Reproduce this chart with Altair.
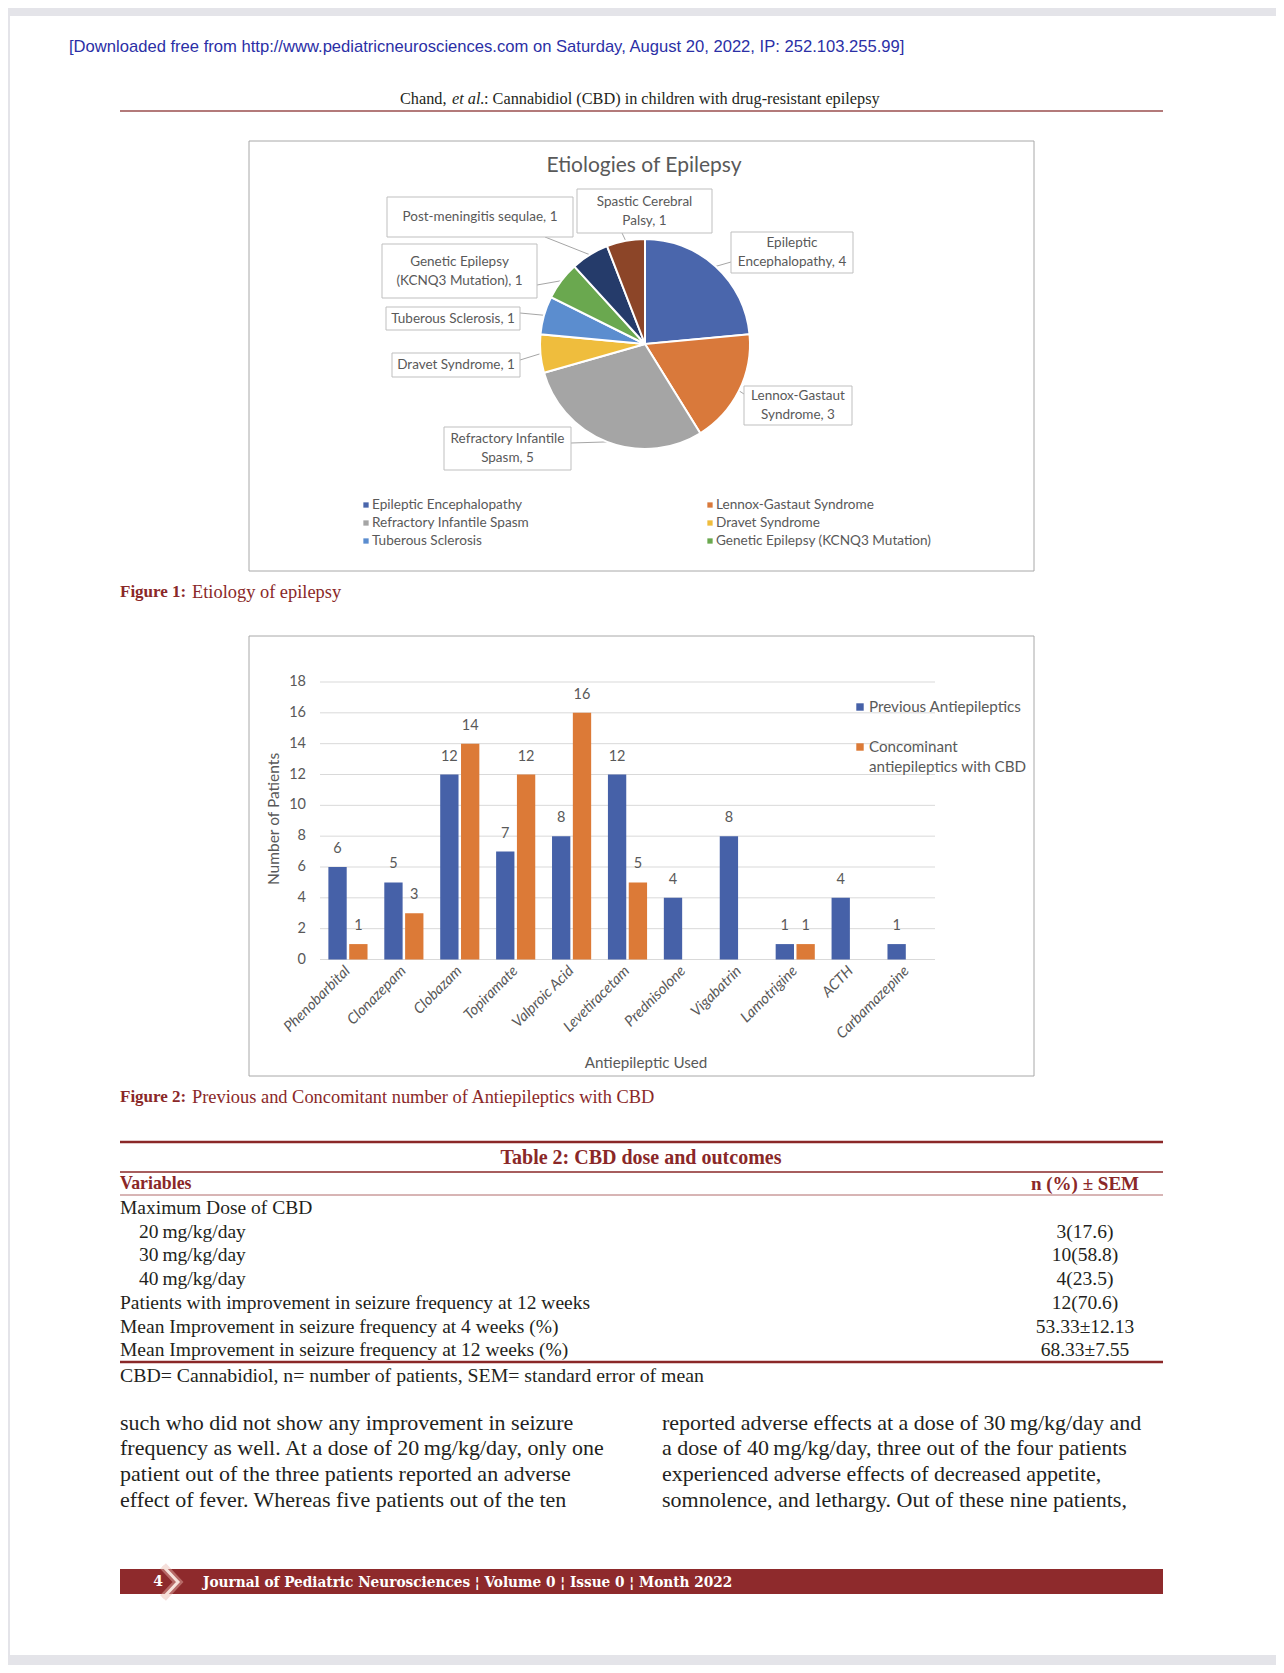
import altair as alt
import numpy as np
import pandas as pd

# ---------------- data ----------------
ETIOLOGIES = ["Epileptic Encephalopathy", "Lennox-Gastaut Syndrome", "Refractory Infantile Spasm",
              "Dravet Syndrome", "Tuberous Sclerosis", "Genetic Epilepsy (KCNQ3 Mutation)",
              "Post-meningitis sequlae", "Spastic Cerebral Palsy"]
ETIOLOGY_COUNTS = [4, 3, 5, 1, 1, 1, 1, 1]
ETIOLOGY_COLORS = ["#4a66ac", "#d9793b", "#a5a5a5", "#efbd3d", "#5b8dcf", "#6aa84f", "#253b6a", "#8c4528"]
LEGEND_SHOWN = 6

DRUGS = ["Phenobarbital", "Clonazepam", "Clobazam", "Topiramate", "Valproic Acid", "Levetiracetam",
         "Prednisolone", "Vigabatrin", "Lamotrigine", "ACTH", "Carbamazepine"]
PREVIOUS = [6, 5, 12, 7, 8, 12, 4, 8, 1, 4, 1]
CONCOMITANT = [1, 3, 14, 12, 16, 5, None, None, 1, None, None]
SERIES = ["Previous Antiepileptics", "Concominant antiepileptics with CBD"]
SERIES_COLORS = ["#4661a8", "#dc7a37"]
Y_TICKS = [0, 2, 4, 6, 8, 10, 12, 14, 16, 18]

TABLE_VARIABLES = ["Maximum Dose of CBD", "20\u2009mg/kg/day", "30\u2009mg/kg/day", "40\u2009mg/kg/day",
                   "Patients with improvement in seizure frequency at 12 weeks",
                   "Mean Improvement in seizure frequency at 4 weeks (%)",
                   "Mean Improvement in seizure frequency at 12 weeks (%)"]
TABLE_VALUES = ["", "3(17.6)", "10(58.8)", "4(23.5)", "12(70.6)", "53.33\u00b112.13", "68.33\u00b17.55"]

BODY_LEFT = ["such who did not show any improvement in seizure",
             "frequency as well. At a dose of 20\u2009mg/kg/day, only one",
             "patient out of the three patients reported an adverse",
             "effect of fever. Whereas five patients out of the ten"]
BODY_RIGHT = ["reported adverse effects at a dose of 30\u2009mg/kg/day and",
              "a dose of 40\u2009mg/kg/day, three out of the four patients",
              "experienced adverse effects of decreased appetite,",
              "somnolence, and lethargy. Out of these nine patients,"]

# ---------------- layout (page pixel coordinates) ----------------
OFF = 8
W, H = 1268, 1657
SERIF = "Liberation Serif"
SANS = "Liberation Sans"
CHART_FONT = "Lato"
GREY_TXT = "#595959"
RED = "#8a2828"
INK = "#231f20"

# pie label boxes: (x0, y0, x1, y1, words on first line (0 = single line), leader start x, y)
LABEL_LAYOUT = {
    "Epileptic Encephalopathy": (731, 232, 853, 273, 1, 731, 262),
    "Lennox-Gastaut Syndrome": (744, 386, 852, 425, 1, 744, 394),
    "Refractory Infantile Spasm": (444, 427, 571, 470, 2, 571, 443),
    "Dravet Syndrome": (392, 353, 520, 377, 0, 520, 360),
    "Tuberous Sclerosis": (386, 307, 520, 330, 0, 520, 313),
    "Genetic Epilepsy (KCNQ3 Mutation)": (382, 244, 537, 298, 2, 537, 285),
    "Post-meningitis sequlae": (387, 197, 573, 237, 0, 545, 237),
    "Spastic Cerebral Palsy": (577, 189, 712, 233, 2, 622, 233),
}
CX, CY, R = 645, 344, 105


def px(v):
    return v - OFF


def XN(f="x"):
    return alt.X(f"{f}:Q", scale=None, axis=None)


def YN(f="y"):
    return alt.Y(f"{f}:Q", scale=None, axis=None)


def texts(rows, **kw):
    df = pd.DataFrame(rows, columns=["x", "y", "t"])
    df["x"] = df["x"] - OFF
    df["y"] = df["y"] - OFF
    kw.setdefault("baseline", "middle")
    kw.setdefault("align", "left")
    return alt.Chart(df).mark_text(**kw).encode(x=XN(), y=YN(), text="t:N")


def rects(rows, **kw):
    df = pd.DataFrame(rows, columns=["x", "y", "x2", "y2"]) - OFF
    return alt.Chart(df).mark_rect(**kw).encode(x=XN(), x2="x2:Q", y=YN(), y2="y2:Q")


def rules(rows, **kw):
    df = pd.DataFrame(rows, columns=["x", "y", "x2", "y2"]) - OFF
    return alt.Chart(df).mark_rule(**kw).encode(x=XN(), x2="x2:Q", y=YN(), y2="y2:Q")


layers = []

# page background
layers.append(rects([(10, 16, 1276, 1655)], color="white"))

# header
layers.append(texts([(69, 47, "[Downloaded free from http://www.pediatricneurosciences.com on Saturday, August 20, 2022, IP: 252.103.255.99]")],
                    font=SANS, fontSize=16.6, color="#2b2fa6"))
layers.append(texts([(400, 99, "Chand,")], font=SERIF, fontSize=16.3, color=INK))
layers.append(texts([(452, 99, "et al.")], font=SERIF, fontSize=16.3, color=INK, fontStyle="italic"))
layers.append(texts([(484, 99, ": Cannabidiol (CBD) in children with drug-resistant epilepsy")], font=SERIF, fontSize=16.3, color=INK))
layers.append(rules([(120, 111, 1163, 111)], color="#9a4e4e", strokeWidth=1.6))

# figure frames
layers.append(rects([(249, 141, 1034, 571), (249, 636, 1034, 1076)], fill="white", stroke="#a8a8a8", strokeWidth=1))

# ---------------- pie chart ----------------
pie_df = pd.DataFrame({"etiology": ETIOLOGIES, "count": ETIOLOGY_COUNTS})
pie_df["idx"] = np.arange(len(pie_df))
total = pie_df["count"].sum()
mid = (pie_df["count"].cumsum() - pie_df["count"] / 2) / total * 2 * np.pi
pie_df["ax"] = CX + R * np.sin(mid) - OFF
pie_df["ay"] = CY - R * np.cos(mid) - OFF
pie_df["sx"] = [LABEL_LAYOUT[e][5] - OFF for e in ETIOLOGIES]
pie_df["sy"] = [LABEL_LAYOUT[e][6] - OFF for e in ETIOLOGIES]
pie_df["bx0"] = [LABEL_LAYOUT[e][0] - OFF for e in ETIOLOGIES]
pie_df["by0"] = [LABEL_LAYOUT[e][1] - OFF for e in ETIOLOGIES]
pie_df["bx1"] = [LABEL_LAYOUT[e][2] - OFF for e in ETIOLOGIES]
pie_df["by1"] = [LABEL_LAYOUT[e][3] - OFF for e in ETIOLOGIES]
pie_df["col"] = pie_df["idx"] % 2
pie_df["row"] = pie_df["idx"] // 2
pie_df["lx"] = 366 - OFF + pie_df["col"] * 344
pie_df["ly"] = 505 - OFF + pie_df["row"] * 18

label_rows = []
for e, c in zip(ETIOLOGIES, ETIOLOGY_COUNTS):
    x0, y0, x1, y1, brk, _, _ = LABEL_LAYOUT[e]
    words = f"{e}, {c}".split(" ")
    lines = [" ".join(words)] if brk == 0 else [" ".join(words[:brk]), " ".join(words[brk:])]
    ymid = (y0 + y1) / 2
    offs = [0] if len(lines) == 1 else [-9.5, 9.5]
    for ln, o in zip(lines, offs):
        label_rows.append(((x0 + x1) / 2, ymid + o, ln))

pie_color = alt.Scale(domain=ETIOLOGIES, range=ETIOLOGY_COLORS)
pie_base = alt.Chart(pie_df)
arc = pie_base.mark_arc(outerRadius=R, stroke="white", strokeWidth=2).encode(
    theta=alt.Theta("count:Q", stack=True),
    color=alt.Color("etiology:N", scale=pie_color, legend=None),
    order=alt.Order("idx:Q"),
    x=alt.value(px(CX)), y=alt.value(px(CY)),
)
leaders = pie_base.mark_rule(color="#a6a6a6", strokeWidth=1).encode(x=XN("sx"), y=YN("sy"), x2="ax:Q", y2="ay:Q")
boxes = pie_base.mark_rect(fill="white", stroke="#bfbfbf", strokeWidth=1).encode(x=XN("bx0"), x2="bx1:Q", y=YN("by0"), y2="by1:Q")
leg_sq = pie_base.transform_filter(f"datum.idx < {LEGEND_SHOWN}").mark_square(size=28, opacity=1).encode(
    x=XN("lx"), y=YN("ly"), color=alt.Color("etiology:N", scale=pie_color, legend=None))
leg_tx = pie_base.transform_filter(f"datum.idx < {LEGEND_SHOWN}").mark_text(
    align="left", baseline="middle", dx=6, font=CHART_FONT, fontSize=13.6, color=GREY_TXT).encode(
    x=XN("lx"), y=YN("ly"), text="etiology:N")
pie_layer = alt.layer(leaders, arc, boxes, leg_sq, leg_tx)
layers.append(pie_layer)
layers.append(texts(label_rows, font=CHART_FONT, fontSize=13.5, color=GREY_TXT, align="center"))
layers.append(texts([(644, 166, "Etiologies of Epilepsy")], font=CHART_FONT, fontSize=21, color=GREY_TXT, align="center"))

# ---------------- bar chart ----------------
bar_rows = []
for d, p, c in zip(DRUGS, PREVIOUS, CONCOMITANT):
    bar_rows.append({"drug": d, "series": SERIES[0], "value": p})
    if c is not None:
        bar_rows.append({"drug": d, "series": SERIES[1], "value": c})
bar_df = pd.DataFrame(bar_rows)

XS = alt.Scale(domain=DRUGS, range=[px(320), px(935)], paddingInner=0.3, paddingOuter=0.15)
YS = alt.Scale(domain=[0, 18], range=[px(959.5), px(682)])
XO = alt.Scale(domain=SERIES, paddingInner=0.12)
CS = alt.Scale(domain=SERIES, range=SERIES_COLORS)

tick_df = pd.DataFrame({"tick": Y_TICKS})
grid = alt.Chart(tick_df).mark_rule(color="#d9d9d9", strokeWidth=1).encode(
    y=alt.Y("tick:Q", scale=YS, axis=None), x=alt.value(px(320)), x2=alt.value(px(935)))
ylab = alt.Chart(tick_df).mark_text(align="right", baseline="middle", font=CHART_FONT, fontSize=14.5, color=GREY_TXT).encode(
    y=alt.Y("tick:Q", scale=YS, axis=None), x=alt.value(px(306)), text="tick:Q")
bars = alt.Chart(bar_df).mark_bar().encode(
    x=alt.X("drug:N", scale=XS, axis=None, sort=DRUGS),
    xOffset=alt.XOffset("series:N", scale=XO, sort=SERIES),
    y=alt.Y("value:Q", scale=YS, axis=None),
    color=alt.Color("series:N", scale=CS, legend=None),
)
vlab = alt.Chart(bar_df).mark_text(dy=-18, baseline="middle", font=CHART_FONT, fontSize=14.5, color=GREY_TXT).encode(
    x=alt.X("drug:N", scale=XS, axis=None, sort=DRUGS),
    xOffset=alt.XOffset("series:N", scale=XO, sort=SERIES),
    y=alt.Y("value:Q", scale=YS, axis=None),
    text="value:Q",
)
drug_df = pd.DataFrame({"drug": DRUGS})
xlab = alt.Chart(drug_df).mark_text(angle=315, align="right", baseline="middle", font=CHART_FONT, fontSize=14.8,
                                    fontStyle="italic", color=GREY_TXT).encode(
    x=alt.X("drug:N", scale=XS, axis=None, sort=DRUGS), y=alt.value(px(969)), text="drug:N")
ser_df = pd.DataFrame({"series": SERIES, "i": [0, 1]})
ser_df["lx"] = 860 - OFF
ser_df["ly"] = 707 - OFF + ser_df["i"] * 40
leg2_sq = alt.Chart(ser_df).mark_square(size=55, opacity=1).encode(
    x=XN("lx"), y=YN("ly"), color=alt.Color("series:N", scale=CS, legend=None))
bar_layer = alt.layer(grid, bars, vlab, xlab, ylab, leg2_sq)
layers.append(bar_layer)
leg2_rows = [(869, 707, "Previous Antiepileptics"), (869, 747, "Concominant"), (869, 767, "antiepileptics with CBD")]
layers.append(texts(leg2_rows, font=CHART_FONT, fontSize=15.2, color=GREY_TXT))
layers.append(texts([(274, 819, "Number of Patients")], font=CHART_FONT, fontSize=15.5, color=GREY_TXT, align="center", angle=270))
layers.append(texts([(646, 1063, "Antiepileptic Used")], font=CHART_FONT, fontSize=15.2, color=GREY_TXT, align="center"))

# captions
layers.append(texts([(120, 592, "Figure 1:"), (120, 1097, "Figure 2:")], font=SERIF, fontSize=17, color=RED, fontWeight="bold"))
layers.append(texts([(192, 592, "Etiology of epilepsy"), (192, 1097, "Previous and Concomitant number of Antiepileptics with CBD")],
                    font=SERIF, fontSize=18.4, color=RED))

# ---------------- table ----------------
layers.append(rules([(120, 1142, 1163, 1142), (120, 1362, 1163, 1362)], color=RED, strokeWidth=2.4))
layers.append(rules([(120, 1172, 1163, 1172)], color=RED, strokeWidth=1.6))
layers.append(rules([(120, 1195, 1163, 1195)], color="#b06a6a", strokeWidth=1))
layers.append(texts([(641, 1158, "Table 2: CBD dose and outcomes")], font=SERIF, fontSize=20, color=RED, fontWeight="bold", align="center"))
layers.append(texts([(120, 1184, "Variables")], font=SERIF, fontSize=17.8, color=RED, fontWeight="bold"))
layers.append(texts([(1139, 1184, "n (%) \u00b1 SEM")], font=SERIF, fontSize=19, color=RED, fontWeight="bold", align="right"))
TABLE_INDENT = [0, 1, 1, 1, 0, 0, 0]
row_y = [1208, 1232, 1255, 1279, 1303, 1327, 1350]
layers.append(texts([(120 + 19 * ind, y, t) for ind, y, t in zip(TABLE_INDENT, row_y, TABLE_VARIABLES)],
                    font=SERIF, fontSize=19.5, color=INK))
layers.append(texts([(1085, y, t) for y, t in zip(row_y, TABLE_VALUES) if t],
                    font=SERIF, fontSize=19.5, color=INK, align="center"))
layers.append(texts([(120, 1376, "CBD= Cannabidiol, n= number of patients, SEM= standard error of mean")],
                    font=SERIF, fontSize=19.8, color=INK))

# ---------------- body text ----------------
body_y = [1423, 1448, 1474, 1500]
layers.append(texts([(120, y, t) for y, t in zip(body_y, BODY_LEFT)] + [(662, y, t) for y, t in zip(body_y, BODY_RIGHT)],
                    font=SERIF, fontSize=22, color=INK))

# ---------------- footer ----------------
layers.append(rects([(120, 1569, 1163, 1594)], color="#8e2a2c"))
chev = pd.DataFrame({"x": [163, 178, 163], "y": [1566, 1582, 1598], "i": [0, 1, 2]})
chev["x"] -= OFF
chev["y"] -= OFF
layers.append(alt.Chart(chev).mark_line(color="#e9b8b0", strokeWidth=8, opacity=0.45).encode(x=XN(), y=YN(), order="i:Q"))
layers.append(alt.Chart(chev).mark_line(color="#f6e1da", strokeWidth=3).encode(x=XN(), y=YN(), order="i:Q"))
layers.append(texts([(158, 1582, "4")], font="DejaVu Serif", fontSize=14, color="white", fontWeight="bold", align="center"))
layers.append(texts([(203, 1582, "Journal of Pediatric Neurosciences \u00a6 Volume 0 \u00a6 Issue 0 \u00a6 Month 2022")],
                    font="DejaVu Serif Condensed, DejaVu Serif", fontSize=15.2, color="white", fontWeight="bold"))

chart = alt.layer(*layers).resolve_scale(
    x="independent", y="independent", color="independent"
).properties(
    width=W, height=H, autosize=alt.AutoSizeParams(type="none"), padding=0
).configure(background="#e4e4e9").configure_view(stroke=None)

chart.save("out.html", embed_options={"renderer": "svg", "actions": False})
